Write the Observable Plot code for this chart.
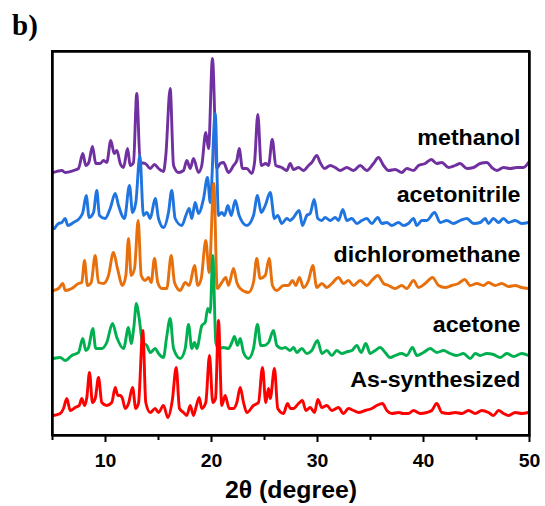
<!DOCTYPE html>
<html><head><meta charset="utf-8">
<script src="https://cdn.jsdelivr.net/npm/d3@7"></script>
<script src="https://cdn.jsdelivr.net/npm/@observablehq/plot@0.6"></script>
<style>
html,body{margin:0;padding:0;background:#fff;overflow:hidden;}
#wrap{position:relative;width:545px;height:506px;overflow:hidden;}
#wrap svg{display:block;}
#tag{position:absolute;left:12px;top:11px;font:bold 29px "Liberation Serif","Times New Roman",serif;line-height:1;color:#000;}
#box{position:absolute;box-sizing:border-box;border:2.5px solid #000;pointer-events:none;}
svg text{font-weight:bold;fill:#000;}
</style></head><body>
<div id="wrap"></div>
<script>
const samples = ["methanol","acetonitrile","dichloromethane","acetone","As-synthesized"];
const colors = ["#7030a0","#1f74e0","#e8700c","#00b050","#ff0000"];
const offsets = [262,205,145,75,20];
const majorTicks = [10,20,30,40,50];
const minorTicks = [5,15,25,35,45];
const axisTitle = "2θ (degree)";

// [2θ (degree), intensity (a.u.)]
const methanol = [[5.09,1],[5.88,3],[6.2,1],[6.98,3],[7.45,5],[7.86,20],[8.14,8],[8.42,11],[8.77,27],[9.08,10],[9.5,10],[9.81,13],[10.12,11],[10.5,33],[10.82,20],[11.07,23],[11.39,10],[11.7,6],[12.08,25],[12.33,8],[12.64,11],[12.95,80],[13.27,11],[13.75,10],[14.22,5],[14.62,9],[15.0,5],[15.47,2],[15.69,18],[16.1,85],[16.42,8],[16.89,1],[17.36,3],[17.67,13],[18.0,5],[18.3,15],[18.77,1],[19.08,8],[19.46,41],[19.72,25],[20.09,115],[20.5,5],[20.82,10],[21.13,11],[21.6,1],[22.08,8],[22.39,13],[22.61,25],[22.92,5],[23.33,5],[23.8,0],[24.06,11],[24.37,59],[24.69,8],[25.12,10],[25.38,8],[25.73,34],[26.07,8],[26.63,6],[27.1,3],[27.42,10],[27.74,4],[28.21,6],[28.68,3],[29.15,8],[29.46,11],[29.93,18],[30.25,11],[30.66,5],[31.2,8],[31.67,6],[32.14,3],[32.76,6],[33.4,3],[34.03,8],[34.65,3],[35.28,10],[35.75,16],[36.23,8],[36.7,3],[37.33,4],[37.95,1],[38.42,5],[39.06,3],[39.53,8],[40.16,10],[40.73,14],[41.25,10],[41.73,11],[42.36,6],[42.99,8],[43.46,10],[44.09,5],[44.72,6],[45.35,10],[45.97,11],[46.44,6],[46.92,3],[47.55,6],[48.18,5],[48.8,6],[49.43,6],[49.9,11]];
const acetonitrile = [[5.19,2],[5.57,7],[5.88,8],[6.2,12],[6.44,5],[6.98,8],[7.61,13],[7.86,18],[8.18,35],[8.46,13],[8.87,18],[9.18,40],[9.43,15],[9.97,12],[10.44,22],[10.92,37],[11.23,25],[11.79,12],[12.26,45],[12.55,18],[12.86,28],[13.24,75],[13.58,15],[13.9,18],[14.22,12],[14.69,32],[15.0,12],[15.47,3],[15.94,18],[16.25,40],[16.57,12],[17.2,5],[17.58,15],[17.9,22],[18.14,12],[18.46,28],[18.77,17],[19.25,32],[19.62,53],[19.88,28],[20.35,117],[20.66,15],[20.97,18],[21.23,15],[21.54,25],[21.86,15],[22.24,30],[22.61,15],[23.33,5],[23.96,15],[24.34,35],[24.69,18],[25.07,25],[25.54,38],[25.94,12],[26.25,15],[26.63,7],[27.1,12],[27.42,10],[27.74,13],[28.27,20],[28.58,5],[28.99,15],[29.31,17],[29.69,31],[30.03,12],[30.41,10],[30.72,13],[31.2,10],[31.67,13],[31.98,10],[32.39,21],[32.76,10],[33.24,12],[33.71,7],[34.18,10],[34.65,12],[35.12,7],[35.69,13],[36.07,7],[36.54,8],[37.01,5],[37.64,8],[38.11,5],[38.58,7],[39.06,12],[39.37,5],[39.84,10],[40.31,10],[41.04,18],[41.58,8],[42.2,10],[42.83,7],[43.46,10],[44.09,12],[44.72,7],[45.35,8],[45.82,12],[46.13,7],[46.6,12],[47.08,8],[47.55,12],[48.02,8],[48.65,10],[49.27,7],[49.9,8]];
const dichloromethane = [[5.09,0],[5.57,2],[5.97,7],[6.2,0],[6.82,2],[7.45,7],[7.76,8],[8.02,30],[8.3,5],[8.65,8],[9.03,35],[9.34,8],[9.81,7],[10.28,15],[10.75,38],[11.13,22],[11.6,5],[11.92,15],[12.17,52],[12.42,15],[12.74,22],[13.08,70],[13.37,15],[13.75,10],[14.06,13],[14.31,8],[14.62,32],[14.93,8],[15.31,2],[15.78,2],[16.2,35],[16.51,8],[17.05,0],[17.52,8],[17.9,5],[18.4,25],[18.71,5],[19.03,12],[19.46,50],[19.78,18],[20.22,107],[20.54,2],[20.97,8],[21.35,13],[21.6,5],[22.08,22],[22.39,8],[22.71,2],[23.49,-2],[23.96,8],[24.27,32],[24.59,12],[25.07,15],[25.44,32],[25.75,5],[26.16,0],[26.79,5],[27.26,5],[27.64,10],[27.95,5],[28.3,13],[28.68,3],[29.15,10],[29.56,25],[29.93,3],[30.41,7],[30.88,3],[31.35,7],[31.98,13],[32.45,7],[32.92,10],[33.4,5],[34.03,10],[34.65,5],[35.12,10],[35.69,15],[36.23,7],[36.7,5],[37.33,2],[37.95,5],[38.42,2],[39.06,10],[39.53,3],[40.16,7],[40.85,13],[41.42,5],[42.05,3],[42.67,5],[43.3,7],[43.87,11],[44.41,5],[45.03,7],[45.66,5],[46.13,8],[46.76,5],[47.39,7],[48.02,4],[48.65,5],[49.27,3],[49.9,2]];
const acetone = [[5.09,2],[5.73,3],[6.2,0],[6.82,5],[7.45,8],[7.86,22],[8.14,10],[8.4,13],[8.8,32],[9.08,12],[9.65,12],[10.12,18],[10.66,37],[11.07,23],[11.7,12],[12.17,33],[12.42,17],[12.67,33],[12.92,57],[13.18,42],[13.49,18],[13.9,15],[14.22,8],[14.69,12],[15.0,7],[15.47,3],[15.75,22],[16.1,42],[16.42,12],[17.05,2],[17.52,12],[17.83,36],[18.14,12],[18.4,18],[18.61,12],[19.09,35],[19.4,38],[19.65,52],[19.88,48],[20.12,105],[20.41,18],[20.66,12],[21.13,13],[21.6,12],[21.92,18],[22.17,24],[22.45,15],[22.71,22],[23.02,8],[23.49,2],[23.96,12],[24.34,36],[24.65,15],[24.97,15],[25.38,18],[25.85,30],[26.16,15],[26.63,12],[26.95,13],[27.42,10],[27.74,13],[28.05,8],[28.52,12],[28.99,7],[29.46,10],[30.0,20],[30.41,7],[30.88,10],[31.35,5],[31.82,10],[32.29,7],[32.86,9],[33.24,10],[33.71,15],[34.12,8],[34.56,17],[34.97,7],[35.44,10],[35.91,13],[36.38,8],[36.86,3],[37.33,5],[37.95,7],[38.42,5],[38.96,13],[39.37,5],[40.0,8],[40.63,12],[41.26,8],[41.89,10],[42.52,7],[43.14,5],[43.77,7],[44.41,2],[44.88,7],[45.35,5],[45.97,7],[46.6,6],[47.24,3],[47.86,7],[48.52,4],[49.27,7],[49.9,5]];
const asSynthesized = [[5.09,0],[5.73,2],[6.04,7],[6.35,17],[6.67,5],[7.14,8],[7.52,10],[7.76,17],[8.02,10],[8.24,18],[8.49,43],[8.77,13],[9.03,17],[9.34,38],[9.65,13],[10.12,10],[10.59,13],[10.92,28],[11.16,20],[11.39,20],[11.6,17],[11.86,7],[12.17,12],[12.55,28],[12.86,7],[13.11,12],[13.52,85],[13.8,13],[14.22,3],[14.69,7],[15.0,3],[15.47,10],[15.88,-2],[16.3,15],[16.67,48],[16.98,7],[17.36,3],[17.67,0],[17.99,10],[18.3,0],[18.58,10],[18.84,18],[19.08,7],[19.46,13],[19.81,60],[20.12,13],[20.38,17],[20.66,95],[20.97,10],[21.29,20],[21.67,7],[22.08,7],[22.39,13],[22.71,28],[23.02,13],[23.33,3],[23.96,10],[24.43,13],[24.81,48],[25.12,13],[25.38,27],[25.54,17],[25.94,47],[26.25,7],[26.79,2],[27.17,12],[27.45,7],[27.74,7],[28.21,12],[28.58,15],[28.9,5],[29.31,8],[29.72,3],[30.03,16],[30.41,8],[30.88,10],[31.35,5],[31.98,8],[32.45,2],[32.92,7],[33.4,5],[33.87,3],[34.5,5],[35.12,7],[35.6,10],[36.13,12],[36.54,5],[37.01,2],[37.64,3],[38.11,2],[38.58,2],[39.06,5],[39.69,2],[40.31,3],[40.78,5],[41.25,12],[41.73,3],[42.36,2],[42.99,3],[43.61,2],[44.25,5],[44.88,2],[45.5,5],[46.13,3],[46.6,0],[47.08,5],[47.55,2],[48.02,0],[48.65,3],[49.27,2],[49.9,3]];

const series = [methanol, acetonitrile, dichloromethane, acetone, asSynthesized];
const rows = series.flatMap((s, i) => s.map(([t, v]) => ({sample: samples[i], t, y: v + offsets[i]})));
const labels = samples.map((s, i) => ({sample: s, y: offsets[i] + 29}));
const border = [{t: 5, y: 0}, {t: 50, y: 0}, {t: 50, y: 384}, {t: 5, y: 384}, {t: 5, y: 0}];

const chart = Plot.plot({
  width: 545, height: 506,
  marginLeft: 52, marginRight: 16, marginTop: 51, marginBottom: 71,
  x: {domain: [5, 50]},
  y: {domain: [0, 384], axis: null},
  color: {domain: samples, range: colors},
  style: {fontFamily: "'Liberation Sans', Arial, sans-serif", background: "white", color: "black"},
  marks: [
    Plot.line(rows, {x: "t", y: "y", z: "sample", stroke: "sample", strokeWidth: 2.9, strokeLinejoin: "round", curve: "monotone-x"}),
    Plot.ruleX(minorTicks, {y1: 0, y2: -5, stroke: "black", strokeWidth: 2}),
    Plot.axisX(majorTicks, {tickSize: 7, tickPadding: 24, fontSize: 18, fontWeight: "bold", label: null, strokeWidth: 2}),
    Plot.text([axisTitle], {text: d => d, frameAnchor: "bottom", dy: 62, lineAnchor: "middle", fontSize: 23, fontWeight: "bold"}),
    Plot.text(labels, {y: "y", text: "sample", frameAnchor: "right", textAnchor: "end", dx: -9, lineAnchor: "middle", fontSize: 21.5, fontWeight: "bold"}),
    Plot.line(border, {x: "t", y: "y", stroke: "black", strokeWidth: 2.5})
  ]
});

// slight horizontal stretch of glyphs, as in the reference
chart.querySelectorAll("text").forEach(t => {
  const x = +t.getAttribute("x") || 0, y = +t.getAttribute("y") || 0;
  const tr = t.getAttribute("transform") || "";
  t.setAttribute("x", 0); t.setAttribute("y", 0);
  t.setAttribute("transform", `${tr} translate(${x},${y}) scale(1.08,1)`);
});

const wrap = document.getElementById("wrap");
wrap.appendChild(chart);

// plot frame outline, positioned from the chart's own x and y scales
const sx = chart.scale("x"), sy = chart.scale("y");
const x0 = sx.apply(5), x1 = sx.apply(50), yTop = sy.apply(384), yBot = sy.apply(0);
const box = document.createElement("div");
box.id = "box";
box.style.left = (x0 - 1.25) + "px";
box.style.top = (yTop - 1.25) + "px";
box.style.width = (x1 - x0 + 2.5) + "px";
box.style.height = (yBot - yTop + 2.5) + "px";
wrap.appendChild(box);

const tag = document.createElement("div");
tag.id = "tag"; tag.textContent = "b)";
wrap.appendChild(tag);
</script>
</body></html>
